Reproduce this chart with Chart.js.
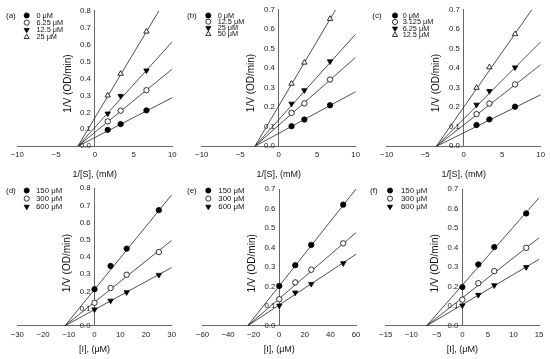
<!DOCTYPE html>
<html><head><meta charset="utf-8">
<script src="https://cdn.jsdelivr.net/npm/chart.js@4.4.0/dist/chart.umd.min.js"></script>
<style>
html,body{margin:0;padding:0;background:#fff;}
#wrap{position:relative;width:550px;height:359px;overflow:hidden;background:#fff;}
canvas{position:absolute;left:0;top:0;}
</style></head><body><div id="wrap">
<canvas id="pa" width="550" height="359"></canvas>
<canvas id="pb" width="550" height="359"></canvas>
<canvas id="pc" width="550" height="359"></canvas>
<canvas id="pd" width="550" height="359"></canvas>
<canvas id="pe" width="550" height="359"></canvas>
<canvas id="pf" width="550" height="359"></canvas>
</div>
<script>
// ---------- data ----------
// top row: x = 1/[S] (mM^-1)
const invS = [1.667, 3.333, 6.667];
const namesA = ['0 μM', '6.25 μM', '12.5 μM', '25 μM'];
const a0 = [0.097, 0.131, 0.212];
const a1 = [0.147, 0.210, 0.331];
const a2 = [0.193, 0.297, 0.447];
const a3 = [0.300, 0.428, 0.677];
const aLineStart = -2.2;
const aLineEndX = [10, 10, 10, 8.28];
const aLineEndY = [0.287, 0.456, 0.617, 0.80];

const namesB = ['0 μM', '12.5 μM', '25 μM', '50 μM'];
const b0 = [0.103, 0.137, 0.210];
const b1 = [0.171, 0.220, 0.342];
const b2 = [0.218, 0.287, 0.435];
const b3 = [0.321, 0.429, 0.653];
const bLineStart = -3.1;
const bLineEndX = [10, 10, 10, 7.4];
const bLineEndY = [0.280, 0.456, 0.575, 0.70];

const namesC = ['0 μM', '3.125 μM', '6.25 μM', '12.5 μM'];
const c0 = [0.109, 0.138, 0.203];
const c1 = [0.165, 0.219, 0.317];
const c2 = [0.213, 0.283, 0.404];
const c3 = [0.300, 0.405, 0.575];
const cLineStart = -3.55;
const cLineEndX = [10, 10, 10, 8.85];
const cLineEndY = [0.264, 0.418, 0.535, 0.70];

// bottom row: x = [I] (μM)
const namesI = ['150 μM', '300 μM', '600 μM'];
const iD = [0, 6.25, 12.5, 25];
const d0 = [0.213, 0.348, 0.449, 0.673];
const d1 = [0.134, 0.220, 0.297, 0.429];
const d2 = [0.095, 0.146, 0.195, 0.296];
const dLineStart = -11.5;
const dLineEndX = [30, 30, 30];
const dLineEndY = [0.762, 0.497, 0.339];

const iE = [0, 12.5, 25, 50];
const e0 = [0.204, 0.310, 0.414, 0.620];
const e1 = [0.136, 0.222, 0.287, 0.422];
const e2 = [0.103, 0.170, 0.214, 0.320];
const eLineStart = -24.7;
const eLineEndX = [60, 60, 60];
const eLineEndY = [0.700, 0.477, 0.366];

const iF = [0, 3.125, 6.25, 12.5];
const f0 = [0.198, 0.314, 0.403, 0.575];
const f1 = [0.134, 0.218, 0.280, 0.399];
const f2 = [0.104, 0.158, 0.207, 0.300];
const fLineStart = -7.0;
const fLineEndX = [15, 15, 15];
const fLineEndY = [0.655, 0.450, 0.340];

// tick labels
const xTicksS = [-10, -5, 0, 5, 10];
const xTicksD = [-30, -20, -10, 0, 10, 20, 30];
const xTicksE = [-60, -40, -20, 0, 20, 40, 60];
const xTicksF = [-15, -10, -5, 0, 5, 10, 15];
const yTicks8 = [0.0, 0.1, 0.2, 0.3, 0.4, 0.5, 0.6, 0.7, 0.8];
const yTicks7 = [0.0, 0.1, 0.2, 0.3, 0.4, 0.5, 0.6, 0.7];

// ---------- styling ----------
const FONT = '"Liberation Sans", Arial, sans-serif';
const markers = [
  {style: 'circle', rot: 0, fill: '#000', r: 2.7},
  {style: 'circle', rot: 0, fill: '#fff', r: 2.7},
  {style: 'triangle', rot: 180, fill: '#000', r: 3.1},
  {style: 'triangle', rot: 0, fill: '#fff', r: 3.1}
];

function drawMarker(ctx, m, x, y, r) {
  ctx.save();
  ctx.fillStyle = m.fill; ctx.strokeStyle = '#000'; ctx.lineWidth = 0.8;
  ctx.beginPath();
  if (m.style === 'circle') {
    ctx.arc(x, y, r, 0, Math.PI * 2);
  } else {
    const s = m.rot ? -1 : 1;
    ctx.moveTo(x, y - s * r);
    ctx.lineTo(x - r * 0.87, y + s * r * 0.5);
    ctx.lineTo(x + r * 0.87, y + s * r * 0.5);
    ctx.closePath();
  }
  ctx.fill(); ctx.stroke();
  ctx.restore();
}

const panelDecor = {
  id: 'panelDecor',
  afterDraw(chart, args, o) {
    const ctx = chart.ctx;
    const ca = chart.chartArea;
    ctx.save();
    ctx.textBaseline = 'middle';
    ctx.textAlign = 'left';
    ctx.fillStyle = '#111';
    ctx.font = o.tagSize + 'px ' + FONT;
    ctx.fillText(o.tag, o.tagX, o.legY);
    ctx.font = o.legSize + 'px ' + FONT;
    o.names.forEach((n, i) => {
      const y = o.legY + i * o.legDy;
      drawMarker(ctx, markers[i], o.markX, y, markers[i].r * 0.95);
      ctx.fillStyle = '#111';
      ctx.fillText(n, o.textX, y);
    });
    const x0 = chart.scales.x.getPixelForValue(0);
    ctx.translate(x0 - o.yTitleOff, (ca.top + ca.bottom) / 2 + o.yTitleShift);
    ctx.rotate(-Math.PI / 2);
    ctx.textAlign = 'center';
    ctx.font = '10px ' + FONT;
    ctx.fillStyle = '#111';
    ctx.fillText('1/V (OD/min)', 0, 0);
    ctx.restore();
  }
};

function fmtX(v) { return v < 0 ? '\u2212' + Math.abs(v) : String(v); }

function makePanel(id, p) {
  const datasets = [];
  p.series.forEach((vals, i) => {
    const m = markers[i];
    datasets.push({
      data: p.x.map((x, j) => ({x: x, y: vals[j]})),
      showLine: false,
      pointStyle: m.style,
      rotation: m.rot,
      pointRadius: m.r,
      backgroundColor: m.fill,
      borderColor: '#000',
      borderWidth: 0.8,
      order: 0
    });
  });
  p.series.forEach((vals, i) => {
    datasets.push({
      data: [{x: p.lineStart, y: 0}, {x: p.endX[i], y: p.endY[i]}],
      showLine: true,
      pointRadius: 0,
      borderColor: '#222',
      borderWidth: 0.8,
      order: 1
    });
  });
  return new Chart(document.getElementById(id), {
    type: 'scatter',
    data: {datasets},
    plugins: [panelDecor],
    options: {
      responsive: false,
      animation: false,
      devicePixelRatio: 1,
      events: [],
      layout: {padding: {left: p.area[0], right: 550 - p.area[1], top: p.area[2], bottom: 359 - p.area[3]}},
      scales: {
        x: {
          type: 'linear',
          position: {y: 0},
          min: p.xTicks[0], max: p.xTicks[p.xTicks.length - 1],
          afterBuildTicks: s => { s.ticks = p.xTicks.map(v => ({value: v})); },
          grid: {display: false, drawTicks: false},
          border: {display: true, color: '#666', width: 1},
          ticks: {padding: 4, color: '#222', font: {family: FONT, size: 7.8}, maxRotation: 0, autoSkip: false, callback: fmtX},
          title: {display: true, text: p.xTitle, color: '#111', font: {family: FONT, size: 9}, padding: {top: p.xTitlePad, bottom: 0}}
        },
        y: {
          type: 'linear',
          position: {x: 0},
          min: 0, max: p.yTicks[p.yTicks.length - 1],
          afterBuildTicks: s => { s.ticks = p.yTicks.map(v => ({value: v})); },
          grid: {display: false, drawTicks: false},
          border: {display: true, color: '#666', width: 1},
          ticks: {padding: 5, color: '#222', font: {family: FONT, size: 7.8}, callback: v => v.toFixed(1) + '\u2002'}
        }
      },
      plugins: {
        legend: {display: false},
        tooltip: {enabled: false},
        panelDecor: p.decor
      }
    }
  });
}

const topDecor = (tag, tagX, markX, textX, dy, names) => ({tag, tagX, markX, textX, legY: 15.5, legDy: dy, names, tagSize: 8, legSize: 7.3, yTitleOff: 27, yTitleShift: 5});
const botDecor = (tag, tagX, markX, textX, names) => ({tag, tagX, markX, textX, legY: 190.5, legDy: 8.1, names, tagSize: 8, legSize: 7.8, yTitleOff: 27, yTitleShift: 6});

makePanel('pa', {x: invS, series: [a0, a1, a2, a3], lineStart: aLineStart, endX: aLineEndX, endY: aLineEndY,
  xTicks: xTicksS, yTicks: yTicks8, xTitle: '1/[S], (mM)', xTitlePad: 5, area: [17.3, 172.3, 10.7, 146.3],
  decor: topDecor('(a)', 6, 26.7, 36.5, 7.2, namesA)});
makePanel('pb', {x: invS, series: [b0, b1, b2, b3], lineStart: bLineStart, endX: bLineEndX, endY: bLineEndY,
  xTicks: xTicksS, yTicks: yTicks7, xTitle: '1/[S], (mM)', xTitlePad: 5, area: [201.7, 355.7, 9.3, 146.3],
  decor: topDecor('(b)', 187, 208.3, 217.7, 6.2, namesB)});
makePanel('pc', {x: invS, series: [c0, c1, c2, c3], lineStart: cLineStart, endX: cLineEndX, endY: cLineEndY,
  xTicks: xTicksS, yTicks: yTicks7, xTitle: '1/[S], (mM)', xTitlePad: 5, area: [386.7, 540.7, 9.3, 146.3],
  decor: topDecor('(c)', 372.3, 395, 402.7, 6.5, namesC)});
makePanel('pd', {x: iD, series: [d0, d1, d2], lineStart: dLineStart, endX: dLineEndX, endY: dLineEndY,
  xTicks: xTicksD, yTicks: yTicks8, xTitle: '[I], (μM)', xTitlePad: 1, area: [17.3, 171.7, 188.3, 325.8],
  decor: botDecor('(d)', 6, 26.7, 36, namesI)});
makePanel('pe', {x: iE, series: [e0, e1, e2], lineStart: eLineStart, endX: eLineEndX, endY: eLineEndY,
  xTicks: xTicksE, yTicks: yTicks7, xTitle: '[I], (μM)', xTitlePad: 1, area: [202.5, 356, 189, 325.8],
  decor: botDecor('(e)', 187, 208.3, 218.3, namesI)});
makePanel('pf', {x: iF, series: [f0, f1, f2], lineStart: fLineStart, endX: fLineEndX, endY: fLineEndY,
  xTicks: xTicksF, yTicks: yTicks7, xTitle: '[I], (μM)', xTitlePad: 1, area: [385.7, 539, 189, 325.8],
  decor: botDecor('(f)', 370, 390, 401, namesI)});
</script>
</body></html>
